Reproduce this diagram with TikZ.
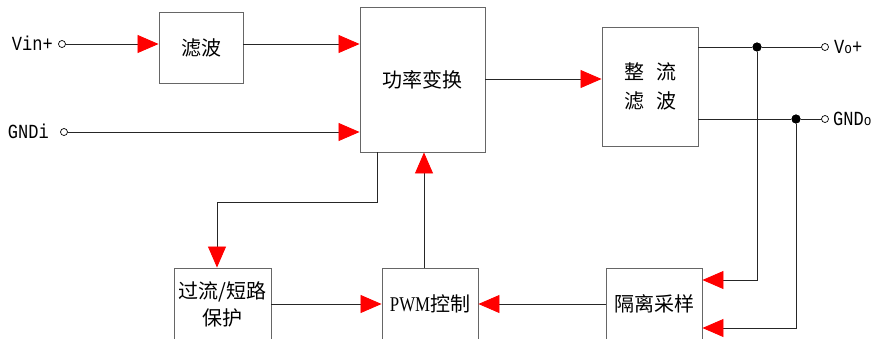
\documentclass[tikz,border=0pt]{standalone}
\usepackage{fontspec}
\setmainfont{Liberation Serif}
\newfontfamily\cjk{Noto Sans CJK SC}
\newfontfamily\latmono[FakeStretch=0.85]{Liberation Mono}
\newfontfamily\latser[FakeStretch=0.8]{Liberation Serif}
\usetikzlibrary{arrows.meta}
\begin{document}
\begin{tikzpicture}[x=1pt,y=-1pt,
  blk/.style={draw=black!60,line width=0.9pt,fill=white,inner sep=0pt,
    font=\cjk\fontsize{20}{28}\selectfont,align=center},
  wire/.style={draw=black!85,line width=0.8pt},
  arr/.style={wire,-{Triangle[length=21pt,width=18pt,color=red]}},
  term/.style={circle,draw=black,line width=0.7pt,fill=white,minimum size=7pt,inner sep=0pt},
  jdot/.style={circle,fill=black,minimum size=9pt,inner sep=0pt},
  lbl/.style={inner sep=0pt,font=\latmono\fontsize{20}{22}\selectfont}]
\useasboundingbox (0,0) rectangle (878,338);
\clip (0,0) rectangle (878,338);
% blocks
\node[blk,minimum width=84pt,minimum height=71pt] (lb) at (201,47.5) {滤波};
\node[blk,minimum width=125pt,minimum height=145pt] (gl) at (422.5,79.5) {功率变换};
\node[blk,minimum width=96pt,minimum height=119pt,font=\cjk\fontsize{20}{29}\selectfont] (zl) at (650,86.5) {整\hspace{0.6em}流\\滤\hspace{0.6em}波};
\node[blk,minimum width=97pt,minimum height=72pt,font=\cjk\fontsize{20}{27}\selectfont] (gw) at (222.5,304) {\raisebox{-1pt}{过流/短路}\\\raisebox{-1pt}{保护}};
\node[blk,minimum width=96pt,minimum height=72pt] (pwm) at (430,304) {{\latser\fontsize{21}{22}\selectfont PWM}控制};
\node[blk,minimum width=96pt,minimum height=72pt] (gc) at (654,304) {隔离采样};
% terminals
\node[term] (vin) at (62,44) {};
\node[term] (gndi) at (64,132) {};
\node[term] (vo) at (825,47) {};
\node[term] (gndo) at (825,119) {};
\node[lbl,anchor=east] (vinl) at (53,43) {Vin+};
\node[lbl,anchor=east] (gndil) at (49,131) {GNDi};
\node[lbl,anchor=west] (vol) at (834,47) {V{\fontsize{15}{16}\selectfont o}+};
\node[lbl,anchor=west] (gndol) at (833,119) {GND{\fontsize{15}{16}\selectfont o}};
% junction dots
\node[jdot] (j1) at (757,47) {};
\node[jdot] (j2) at (796,119) {};
% helper coordinates
\coordinate (c1) at (377,202);
\coordinate (c2) at (217,202);
\coordinate (c3) at (757,280);
\coordinate (c4) at (796,328);
% connectors
\draw[arr] (vin.east) -- (lb.west |- vin);
\draw[arr] (lb.east |- 0,44) -- (gl.west |- 0,44);
\draw[arr] (gndi.east) -- (gl.west |- gndi);
\draw[arr] (gl.east |- 0,79) -- (zl.west |- 0,79);
\draw[wire] (zl.east |- j1) -- (j1) -- (vo.west);
\draw[wire] (zl.east |- j2) -- (j2) -- (gndo.west);
\draw[arr] (j1) -- (c3) -- (gc.east |- c3);
\draw[arr] (j2) -- (c4) -- (gc.east |- c4);
\draw[arr] (gc.west) -- (pwm.east);
\draw[arr] (gw.east) -- (pwm.west);
\draw[arr] (pwm.north -| 424,0) -- (gl.south -| 424,0);
\draw[arr] (gl.south -| c1) -- (c1) -- (c2) -- (gw.north -| c2);
\node[jdot] at (j1) {};
\node[jdot] at (j2) {};
\end{tikzpicture}
\end{document}
